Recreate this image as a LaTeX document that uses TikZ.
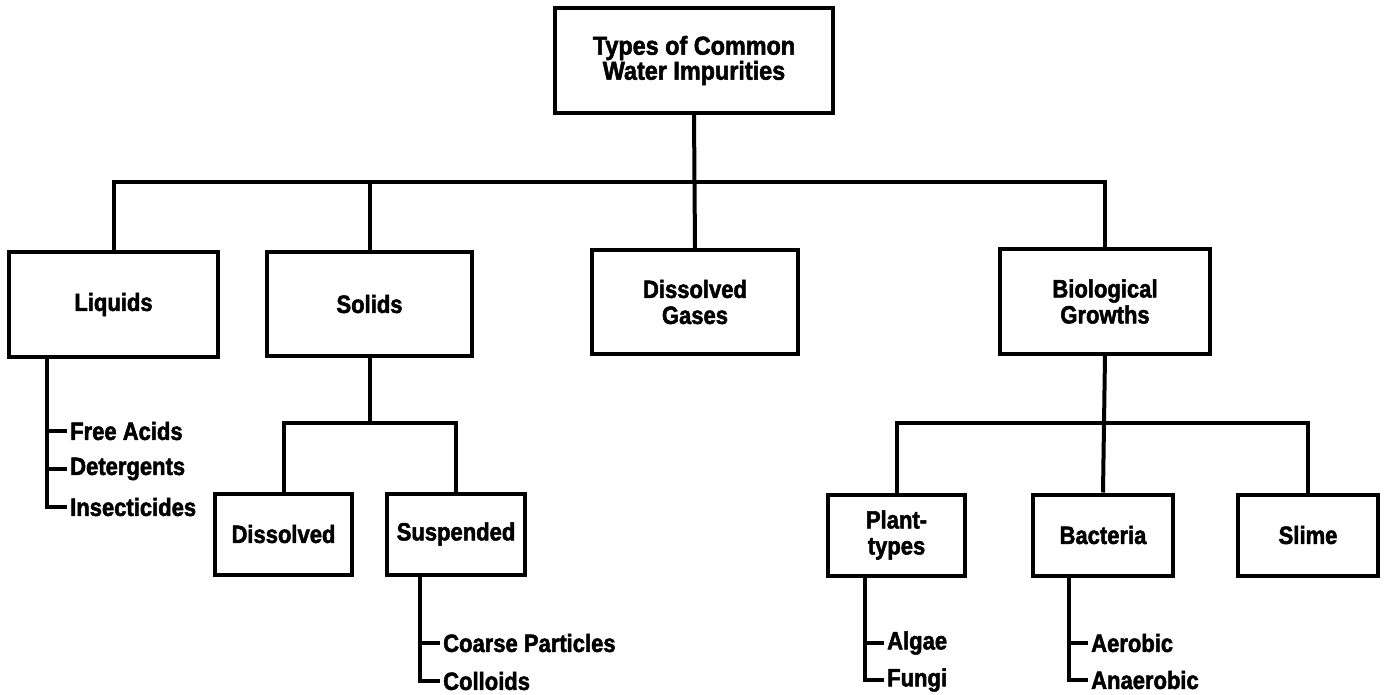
\documentclass[tikz,border=0pt]{standalone}
\usepackage{fontspec}
\setmainfont{Liberation Sans}[BoldFeatures={FakeStretch=0.88,FakeBold=2}]
\newfontfamily\titlefont{Liberation Sans Bold}[FakeStretch=0.9,FakeBold=2]
\begin{document}
\begin{tikzpicture}[x=1pt,y=-1pt,
  box/.style={draw,line width=4pt,inner sep=0pt,align=center,
    font=\bfseries\fontsize{25}{26}\selectfont},
  bigbox/.style={box,minimum width=#1,minimum height=104pt},
  smallbox/.style={box,minimum width=#1,minimum height=81pt},
  item/.style={anchor=west,inner sep=3pt,font=\bfseries\fontsize{25}{26}\selectfont},
  conn/.style={line width=4pt}]
\useasboundingbox (0,0) rectangle (1385,695);
% boxes
\node[box,minimum width=278pt,minimum height=105pt,font=\titlefont\fontsize{26}{25}\selectfont] (top) at (694,60.5) {Types of Common\\Water Impurities};
\node[bigbox=209pt] (liq) at (113.5,304.5) {Liquids};
\node[bigbox=205pt] (sol) at (369.5,304) {Solids};
\node[bigbox=206pt] (gas) at (695,302) {Dissolved\\Gases};
\node[bigbox=210pt] (bio) at (1105,301.5) {Biological\\Growths};
\node[smallbox=137pt] (diss) at (283.5,534) {Dissolved};
\node[smallbox=138pt] (susp) at (456,534) {Suspended};
\node[smallbox=137pt] (plant) at (896.5,535) {Plant-\\types};
\node[smallbox=140pt] (bact) at (1103,535) {Bacteria};
\node[smallbox=140pt] (slime) at (1308,535) {Slime};
% list items
\node[item] (fa) at (67,431) {Free Acids};
\node[item] (det) at (67,469) {Detergents};
\node[item] (ins) at (67,507) {Insecticides};
\node[item] (coarse) at (440,643) {Coarse Particles};
\node[item] (coll) at (440,681) {Colloids};
\node[item] (alg) at (884,643) {Algae};
\node[item] (fun) at (884,680) {Fungi};
\node[item] (aer) at (1088,643) {Aerobic};
\node[item] (ana) at (1088,680) {Anaerobic};
% coordinates
\coordinate (bar) at (0,182);
\coordinate (solbar) at (0,423);
\coordinate (biobar) at (0,423);
\coordinate (ls) at (47,0);
\coordinate (ss) at (420,0);
\coordinate (ps) at (865,0);
\coordinate (bs) at (1069,0);
% main tree
\draw[conn] (top.south) -- (gas.north);
\draw[conn] (liq.north) -- (liq.north |- bar) -- (bio.north |- bar) -- (bio.north);
\draw[conn] (sol.north) -- (sol.north |- bar);
% solids
\draw[conn] (sol.south) -- (sol.south |- solbar);
\draw[conn] (diss.north) -- (diss.north |- solbar) -- (susp.north |- solbar) -- (susp.north);
% biological
\draw[conn] (bio.south) -- (bact.north);
\draw[conn] (plant.north) -- (plant.north |- biobar) -- (slime.north |- biobar) -- (slime.north);
% lists
\draw[conn] (ls |- liq.south) |- (ins.west);
\draw[conn] (ls |- fa.west) -- (fa.west);
\draw[conn] (ls |- det.west) -- (det.west);
\draw[conn] (ss |- susp.south) |- (coll.west);
\draw[conn] (ss |- coarse.west) -- (coarse.west);
\draw[conn] (ps |- plant.south) |- (fun.west);
\draw[conn] (ps |- alg.west) -- (alg.west);
\draw[conn] (bs |- bact.south) |- (ana.west);
\draw[conn] (bs |- aer.west) -- (aer.west);
\end{tikzpicture}
\end{document}
